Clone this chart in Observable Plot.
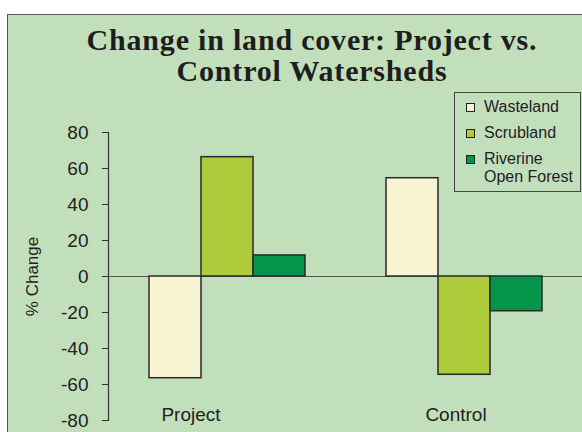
<!DOCTYPE html>
<html>
<head>
<meta charset="utf-8">
<script src="https://cdn.jsdelivr.net/npm/d3@7"></script>
<script src="https://cdn.jsdelivr.net/npm/@observablehq/plot@0.6"></script>
<style>
  html, body { margin: 0; padding: 0; background: #ffffff; }
  #wrap { position: relative; width: 582px; height: 432px; overflow: hidden; background: #ffffff; }
  #box { position: absolute; left: 7px; top: 14px; width: 660px; height: 480px; background: #c2dfbb; border: 1.5px solid #555; box-sizing: border-box; }
  #title { position: absolute; left: 0; top: 24px; width: 624px; text-align: center; font-family: "Liberation Serif", serif; font-weight: bold; font-size: 30px; line-height: 31px; letter-spacing: 0.8px; color: #1e1e1e; }
  #chart { position: absolute; left: 0; top: 0; }
  #legend { position: absolute; left: 454px; top: 92px; width: 127px; height: 100px; border: 1.5px solid #444; box-sizing: border-box; font-family: "Liberation Sans", Arial, sans-serif; font-size: 16px; color: #222; }
  .item { position: absolute; left: 0; }
  .sw { position: absolute; left: 11px; width: 9px; height: 9px; border: 1.2px solid #222; box-sizing: border-box; }
  .lab { position: absolute; left: 29px; line-height: 17.5px; white-space: nowrap; }
</style>
</head>
<body>
<div id="wrap">
  <div id="box"></div>
  <div id="title">Change in land cover: Project vs.<br>Control Watersheds</div>
  <div id="chart"></div>
  <div id="legend"></div>
</div>
<script>
// ---- data ----
const groups = ["Project", "Control"];
const categories = ["Wasteland", "Scrubland", "Riverine Open Forest"];
const legendLabels = ["Wasteland", "Scrubland", "Riverine\nOpen Forest"];
const projectValues = [-56.5, 66.3, 11.7];
const controlValues = [54.6, -54.6, -19.3];
const colors = ["#f8f4d1", "#adcb3b", "#05954a"];
const yTicks = [-80, -60, -40, -20, 0, 20, 40, 60, 80];
const labelShift = [-36, -8];

const valuesByGroup = [projectValues, controlValues];
const rows = groups.flatMap((g, gi) =>
  categories.map((c, ci) => ({group: g, category: c, value: valuesByGroup[gi][ci]}))
);

const textColor = "#222";

const chart = Plot.plot({
  width: 582,
  height: 432,
  marginLeft: 107,
  marginRight: 0,
  marginTop: 132,
  marginBottom: 12,
  style: {background: "transparent", fontFamily: "'Liberation Sans', Arial, sans-serif", color: textColor},
  fx: {domain: groups, padding: 0, axis: null},
  x: {domain: categories, paddingInner: 0, paddingOuter: 0.75, axis: null},
  y: {domain: [-80, 80], axis: null},
  color: {domain: categories, range: colors},
  marks: [
    Plot.ruleY([0], {stroke: "#555", strokeWidth: 1}),
    Plot.barY(rows, {fx: "group", x: "category", y: "value", fill: "category", stroke: "#2a2a2a", strokeWidth: 1.5}),
    Plot.frame({anchor: "left", facetAnchor: "left", stroke: "#333", strokeWidth: 1.2}),
    Plot.axisY({
      ticks: yTicks,
      tickSize: 6,
      tickPadding: 14,
      fontSize: 19,
      stroke: "#333",
      label: null,
      tickFormat: d => String(d)
    }),
    Plot.axisY({
      ticks: [],
      tickSize: 0,
      fontSize: 17,
      label: "% Change",
      labelAnchor: "center",
      labelOffset: 83,
      labelArrow: "none"
    }),
    ...groups.map((g, gi) =>
      Plot.text([g], {
        fx: d => d,
        text: d => d,
        frameAnchor: "bottom",
        lineAnchor: "bottom",
        dx: labelShift[gi],
        dy: 0,
        fontSize: 19,
        fill: textColor
      })
    )
  ]
});
document.getElementById("chart").appendChild(chart);

// ---- legend ----
const legend = d3.select("#legend");
legendLabels.forEach((lab, i) => {
  const item = legend.append("div").attr("class", "item").style("top", (8 + i * 26) + "px");
  item.append("div").attr("class", "sw").style("top", "2px").style("background", colors[i]);
  const l = item.append("div").attr("class", "lab").style("top", "-3px");
  lab.split("\n").forEach((line, k) => {
    if (k) l.append("br");
    l.append("span").text(line);
  });
});
</script>
</body>
</html>
